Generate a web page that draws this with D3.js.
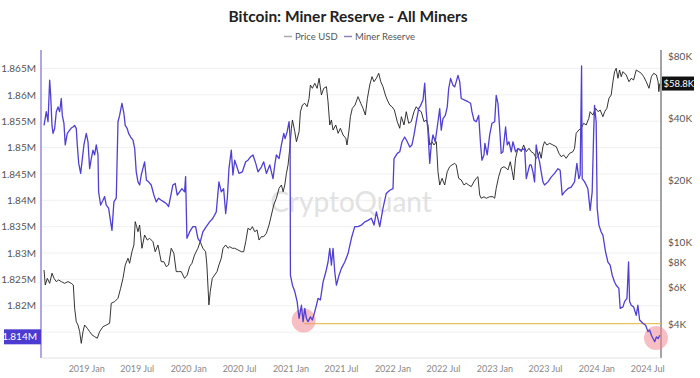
<!DOCTYPE html>
<html>
<head>
<meta charset="utf-8">
<script src="https://cdn.jsdelivr.net/npm/d3@7"></script>
<style>
  html, body { margin: 0; padding: 0; background: #fff; }
  svg { display: block; font-family: Lato, "Open Sans", sans-serif; }
</style>
</head>
<body>
<svg id="chart" width="700" height="378"></svg>
<script>
// ---------------- DATA ----------------
const reserveDates = [2018.587,2018.609,2018.626,2018.642,2018.652,2018.665,2018.675,2018.691,2018.707,2018.724,2018.740,2018.756,2018.766,2018.782,2018.795,2018.815,2018.838,2018.854,2018.871,2018.887,2018.903,2018.913,2018.927,2018.946,2018.959,2018.978,2019.001,2019.018,2019.034,2019.050,2019.067,2019.083,2019.099,2019.116,2019.122,2019.142,2019.165,2019.181,2019.197,2019.220,2019.240,2019.253,2019.272,2019.295,2019.312,2019.328,2019.351,2019.370,2019.383,2019.403,2019.416,2019.436,2019.459,2019.476,2019.491,2019.508,2019.525,2019.540,2019.573,2019.591,2019.612,2019.638,2019.664,2019.687,2019.710,2019.736,2019.762,2019.785,2019.808,2019.828,2019.850,2019.873,2019.893,2019.916,2019.939,2019.965,2019.975,2019.988,2020.014,2020.046,2020.073,2020.095,2020.118,2020.144,2020.177,2020.210,2020.242,2020.275,2020.301,2020.324,2020.347,2020.367,2020.383,2020.399,2020.422,2020.438,2020.455,2020.471,2020.497,2020.530,2020.563,2020.585,2020.608,2020.634,2020.661,2020.683,2020.716,2020.739,2020.765,2020.798,2020.830,2020.847,2020.863,2020.889,2020.912,2020.935,2020.948,2020.968,2020.987,2020.997,2021.000,2021.020,2021.043,2021.066,2021.085,2021.108,2021.124,2021.141,2021.157,2021.173,2021.196,2021.215,2021.239,2021.255,2021.271,2021.294,2021.320,2021.347,2021.369,2021.386,2021.402,2021.418,2021.435,2021.451,2021.477,2021.500,2021.533,2021.565,2021.598,2021.631,2021.663,2021.696,2021.729,2021.761,2021.794,2021.820,2021.843,2021.876,2021.908,2021.940,2021.974,2022.006,2022.016,2022.048,2022.072,2022.094,2022.121,2022.146,2022.170,2022.192,2022.212,2022.234,2022.258,2022.277,2022.300,2022.317,2022.332,2022.349,2022.366,2022.381,2022.398,2022.420,2022.447,2022.464,2022.479,2022.496,2022.519,2022.538,2022.552,2022.571,2022.594,2022.611,2022.626,2022.643,2022.660,2022.675,2022.709,2022.741,2022.767,2022.780,2022.800,2022.822,2022.846,2022.865,2022.878,2022.898,2022.907,2022.930,2022.954,2022.976,2023.003,2023.018,2023.035,2023.052,2023.067,2023.084,2023.110,2023.126,2023.143,2023.165,2023.182,2023.208,2023.231,2023.263,2023.297,2023.313,2023.329,2023.346,2023.361,2023.378,2023.394,2023.410,2023.426,2023.443,2023.459,2023.476,2023.492,2023.525,2023.557,2023.590,2023.623,2023.645,2023.665,2023.688,2023.720,2023.753,2023.786,2023.809,2023.828,2023.841,2023.855,2023.861,2023.885,2023.900,2023.917,2023.939,2023.959,2023.973,2023.982,2023.998,2024.008,2024.025,2024.047,2024.064,2024.090,2024.113,2024.135,2024.155,2024.178,2024.194,2024.220,2024.233,2024.260,2024.276,2024.299,2024.315,2024.325,2024.341,2024.364,2024.390,2024.406,2024.423,2024.455,2024.482,2024.505,2024.521,2024.538,2024.554,2024.571,2024.587,2024.604,2024.620];
const reserveValues = [1.8542,1.8568,1.8549,1.8628,1.8599,1.8542,1.8527,1.8536,1.8568,1.8577,1.8568,1.8593,1.8561,1.8546,1.8505,1.8527,1.8533,1.8537,1.8539,1.8542,1.8536,1.8505,1.8470,1.8451,1.8473,1.8505,1.8527,1.8511,1.8460,1.8479,1.8495,1.8486,1.8505,1.8486,1.8416,1.8391,1.8400,1.8407,1.8391,1.8385,1.8359,1.8343,1.8397,1.8404,1.8549,1.8561,1.8584,1.8565,1.8542,1.8536,1.8527,1.8520,1.8514,1.8498,1.8454,1.8435,1.8429,1.8448,1.8473,1.8438,1.8435,1.8429,1.8410,1.8397,1.8404,1.8400,1.8397,1.8394,1.8388,1.8407,1.8429,1.8432,1.8410,1.8416,1.8422,1.8416,1.8445,1.8328,1.8340,1.8350,1.8350,1.8328,1.8321,1.8340,1.8350,1.8359,1.8366,1.8378,1.8435,1.8416,1.8422,1.8375,1.8404,1.8460,1.8495,1.8448,1.8476,1.8467,1.8451,1.8454,1.8473,1.8476,1.8482,1.8486,1.8470,1.8454,1.8463,1.8473,1.8451,1.8467,1.8441,1.8467,1.8486,1.8479,1.8505,1.8527,1.8517,1.8530,1.8549,1.8517,1.8258,1.8239,1.8227,1.8208,1.8176,1.8201,1.8170,1.8195,1.8176,1.8170,1.8179,1.8173,1.8189,1.8201,1.8214,1.8211,1.8245,1.8264,1.8283,1.8309,1.8277,1.8309,1.8264,1.8239,1.8258,1.8271,1.8283,1.8299,1.8328,1.8350,1.8350,1.8353,1.8359,1.8362,1.8366,1.8353,1.8378,1.8350,1.8385,1.8413,1.8419,1.8422,1.8479,1.8489,1.8492,1.8511,1.8520,1.8511,1.8501,1.8505,1.8524,1.8549,1.8574,1.8580,1.8590,1.8622,1.8568,1.8530,1.8470,1.8505,1.8524,1.8511,1.8549,1.8574,1.8533,1.8555,1.8561,1.8577,1.8612,1.8631,1.8618,1.8615,1.8625,1.8637,1.8625,1.8593,1.8590,1.8587,1.8584,1.8568,1.8552,1.8549,1.8561,1.8505,1.8476,1.8486,1.8508,1.8486,1.8524,1.8546,1.8549,1.8599,1.8584,1.8536,1.8489,1.8492,1.8539,1.8505,1.8511,1.8492,1.8511,1.8492,1.8498,1.8495,1.8498,1.8441,1.8454,1.8467,1.8467,1.8454,1.8435,1.8505,1.8486,1.8473,1.8454,1.8435,1.8429,1.8435,1.8444,1.8451,1.8460,1.8457,1.8410,1.8416,1.8422,1.8425,1.8435,1.8470,1.8441,1.8448,1.8655,1.8441,1.8435,1.8429,1.8422,1.8381,1.8416,1.8524,1.8580,1.8549,1.8385,1.8353,1.8340,1.8334,1.8302,1.8283,1.8277,1.8258,1.8245,1.8239,1.8233,1.8195,1.8198,1.8208,1.8214,1.8283,1.8208,1.8201,1.8198,1.8182,1.8201,1.8173,1.8167,1.8163,1.8151,1.8154,1.8144,1.8138,1.8132,1.8141,1.8138,1.8144];

const priceDates = [2018.587,2018.599,2018.619,2018.642,2018.665,2018.685,2018.707,2018.730,2018.756,2018.789,2018.822,2018.854,2018.874,2018.887,2018.903,2018.920,2018.936,2018.952,2018.969,2018.985,2019.011,2019.034,2019.057,2019.083,2019.109,2019.132,2019.165,2019.197,2019.230,2019.246,2019.279,2019.312,2019.338,2019.361,2019.383,2019.410,2019.426,2019.449,2019.468,2019.481,2019.495,2019.508,2019.524,2019.547,2019.573,2019.599,2019.622,2019.655,2019.677,2019.704,2019.736,2019.762,2019.785,2019.808,2019.834,2019.860,2019.883,2019.906,2019.932,2019.965,2019.991,2020.014,2020.037,2020.063,2020.095,2020.118,2020.144,2020.171,2020.183,2020.203,2020.216,2020.236,2020.259,2020.282,2020.301,2020.324,2020.341,2020.367,2020.390,2020.406,2020.432,2020.455,2020.487,2020.520,2020.543,2020.563,2020.585,2020.608,2020.628,2020.651,2020.674,2020.693,2020.716,2020.739,2020.765,2020.791,2020.814,2020.837,2020.863,2020.889,2020.912,2020.929,2020.945,2020.961,2020.977,2020.994,2021.010,2021.020,2021.043,2021.059,2021.085,2021.098,2021.118,2021.141,2021.164,2021.183,2021.196,2021.215,2021.239,2021.262,2021.281,2021.304,2021.327,2021.353,2021.369,2021.386,2021.402,2021.418,2021.445,2021.468,2021.490,2021.516,2021.543,2021.555,2021.575,2021.588,2021.607,2021.634,2021.663,2021.690,2021.712,2021.735,2021.755,2021.778,2021.800,2021.820,2021.843,2021.866,2021.886,2021.908,2021.931,2021.950,2021.974,2021.996,2022.019,2022.048,2022.072,2022.088,2022.114,2022.136,2022.160,2022.185,2022.212,2022.234,2022.258,2022.283,2022.310,2022.332,2022.349,2022.366,2022.388,2022.408,2022.431,2022.447,2022.464,2022.487,2022.513,2022.538,2022.562,2022.584,2022.611,2022.626,2022.650,2022.675,2022.702,2022.724,2022.748,2022.773,2022.800,2022.822,2022.839,2022.856,2022.871,2022.898,2022.920,2022.954,2022.986,2023.003,2023.018,2023.042,2023.067,2023.094,2023.116,2023.133,2023.156,2023.175,2023.189,2023.208,2023.231,2023.263,2023.287,2023.313,2023.339,2023.361,2023.385,2023.410,2023.426,2023.443,2023.459,2023.476,2023.492,2023.515,2023.542,2023.574,2023.607,2023.633,2023.655,2023.679,2023.704,2023.738,2023.770,2023.786,2023.802,2023.828,2023.851,2023.875,2023.900,2023.926,2023.939,2023.966,2023.992,2024.018,2024.037,2024.064,2024.081,2024.103,2024.123,2024.145,2024.162,2024.178,2024.194,2024.211,2024.227,2024.243,2024.260,2024.292,2024.319,2024.341,2024.364,2024.390,2024.416,2024.439,2024.463,2024.488,2024.515,2024.538,2024.561,2024.587,2024.604,2024.611,2024.620];
const priceValues = [7310,6180,6660,6300,7050,6660,6420,6540,6420,6300,6420,6300,6180,4770,4100,3950,3670,3220,3670,3950,3810,3670,3540,3470,3410,3670,3880,3950,4030,5040,5130,5330,5960,6660,7730,8340,7880,8970,9670,12550,11870,11220,12090,9320,10810,10220,10420,10030,8970,9670,8020,8020,7590,7730,9320,8810,7180,7180,7180,6660,6910,7590,7880,8650,9320,10030,9320,8970,7730,4950,5740,6660,6910,7180,7730,8340,9320,9670,9320,9490,9320,9320,9150,8970,8970,10030,11660,11440,11870,11220,11440,10220,10610,10610,11020,12090,13520,15120,16300,18230,18910,17540,18910,21560,23650,28500,35650,39120,34320,30690,34320,42920,46260,47150,45380,49850,57840,55750,58970,55750,62340,51730,55750,56760,48000,36990,39120,34970,36990,33710,35650,33080,31890,29580,34970,40580,44570,46260,50760,47150,44570,41360,49850,57840,63480,60000,62340,65940,60000,56760,51730,48910,46260,45380,43740,38380,35650,40580,36990,42920,37700,38380,42920,45380,43740,42920,38380,39120,36990,29580,30690,29580,30690,21950,18910,20380,18910,21950,23210,23650,24100,23650,20380,20000,18910,19280,18910,18560,19630,20380,20750,16910,16300,16590,16300,16590,16590,16300,18230,20750,22800,23210,22800,22370,24540,21950,20000,25490,28500,27440,29580,27440,28500,27440,26960,25490,25950,27440,25490,29020,30690,29580,30150,29580,29020,26960,25950,26450,25490,26960,27440,28500,33710,34970,35650,37700,36990,39870,42920,41360,44570,42920,43740,40580,42920,44570,49850,51730,60000,67130,69730,62340,68400,63480,67130,64700,60000,62340,61170,68400,67130,65940,63480,60000,55750,63480,65940,64700,60000,53700,58800];

const leftTickValues = [1.815,1.82,1.825,1.83,1.835,1.84,1.845,1.85,1.855,1.86,1.865];
const rightTickValues = [4000,6000,8000,10000,20000,40000,80000];
const rightTickLabels = ["$4K","$6K","$8K","$10K","$20K","$40K","$80K"];
const xTickDates = [2019.0,2019.5,2020.0,2020.5,2021.0,2021.5,2022.0,2022.5,2023.0,2023.5,2024.0,2024.5];
const xTickLabels = ["2019 Jan","2019 Jul","2020 Jan","2020 Jul","2021 Jan","2021 Jul","2022 Jan","2022 Jul","2023 Jan","2023 Jul","2024 Jan","2024 Jul"];

// annotations
const lastReserveLabel = "1.814M";
const lastPriceLabel = "$58.8K";
const lastPriceValue = 58800;
const supportLevel = 1.8166;
const supportRange = [2021.135, 2024.632];
const circleDates = [2021.130, 2024.583];
const circleValues = [1.8172, 1.8139];

// ---------------- HELPERS ----------------
function dy(y) {
  const yr = Math.floor(y);
  const a = Date.UTC(yr, 0, 1), b = Date.UTC(yr + 1, 0, 1);
  return new Date(a + (y - yr) * (b - a));
}
function xTickDate(y) {
  const yr = Math.floor(y);
  return new Date(Date.UTC(yr, Math.round((y - yr) * 12), 1));
}

const svg = d3.select("#chart");
const L = 41, R = 661, T = 50, B = 358;
const FONT = "Lato, 'Open Sans', sans-serif";

const x = d3.scaleUtc().domain([dy(2018.5571), dy(2024.6321)]).range([L, R]);
const yL = d3.scaleLinear().domain([1.8101, 1.8685]).range([B, T]);
const yR = d3.scaleLog().domain([2733, 85550]).range([B, T]);

// Title
svg.append("text").attr("x", 348).attr("y", 22).attr("text-anchor", "middle")
  .attr("font-size", 15.5).attr("font-weight", 700).attr("fill", "#222")
  .text("Bitcoin: Miner Reserve - All Miners");

// Legend
const lg = svg.append("g").attr("font-size", 9.5).attr("fill", "#555");
lg.append("line").attr("x1", 284).attr("x2", 292).attr("y1", 36.5).attr("y2", 36.5).attr("stroke", "#aaa").attr("stroke-width", 1.5);
lg.append("text").attr("x", 295).attr("y", 40).text("Price USD");
lg.append("line").attr("x1", 344).attr("x2", 352).attr("y1", 36.5).attr("y2", 36.5).attr("stroke", "#8b87b0").attr("stroke-width", 1.5);
lg.append("text").attr("x", 355).attr("y", 40).text("Miner Reserve");

// Grid lines
svg.append("g").selectAll("line").data(leftTickValues).join("line")
  .attr("x1", L).attr("x2", R).attr("y1", d => yL(d)).attr("y2", d => yL(d))
  .attr("stroke", "#f1f1f1").attr("stroke-width", 1);

// Watermark
svg.append("text").attr("x", 351).attr("y", 212).attr("text-anchor", "middle")
  .attr("font-size", 28).attr("fill", "#e2e2e2").attr("font-family", FONT)
  .text("CryptoQuant");

// Left axis
const axL = d3.axisLeft(yL).tickValues(leftTickValues.filter(v => v > 1.816))
  .tickFormat(d => d3.format(".4~")(d) + "M").tickSize(0).tickPadding(5);
const gL = svg.append("g").attr("transform", `translate(${L},0)`).call(axL);
gL.select(".domain").attr("stroke", "#7a6cd8").attr("stroke-width", 1.2).attr("d", `M0,${T}V${B}`);
gL.selectAll("text").attr("font-size", 10).attr("fill", "#555").attr("font-family", FONT);

// Right axis
const axR = d3.axisRight(yR).tickValues(rightTickValues)
  .tickFormat((d, i) => rightTickLabels[i]).tickSize(0).tickPadding(7);
const gR = svg.append("g").attr("transform", `translate(${R},0)`).call(axR);
gR.select(".domain").attr("stroke", "#666").attr("stroke-width", 1.2).attr("d", `M0,${T}V${B}`);
gR.selectAll("text").attr("font-size", 10).attr("fill", "#555").attr("font-family", FONT);

// Bottom axis
const axB = d3.axisBottom(x).tickValues(xTickDates.map(xTickDate))
  .tickFormat((d, i) => xTickLabels[i]).tickSize(0).tickPadding(8);
const gB = svg.append("g").attr("transform", `translate(0,${B})`).call(axB);
gB.select(".domain").attr("stroke", "#e2e2e2").attr("d", `M${L},0H${R}`);
gB.selectAll("text").attr("font-size", 9).attr("fill", "#888").attr("font-family", FONT);

// Support line
svg.append("line")
  .attr("x1", x(dy(supportRange[0]))).attr("x2", x(dy(supportRange[1])))
  .attr("y1", yL(supportLevel)).attr("y2", yL(supportLevel))
  .attr("stroke", "#e6c35c").attr("stroke-width", 1.2);

// Circles
svg.append("g").selectAll("circle").data(circleDates).join("circle")
  .attr("cx", d => x(dy(d))).attr("cy", (d, i) => yL(circleValues[i])).attr("r", 12)
  .attr("fill", "#f08a94").attr("fill-opacity", 0.55);

// Price line
const priceData = priceDates.map((d, i) => [dy(d), priceValues[i]]);
svg.append("path").datum(priceData)
  .attr("fill", "none").attr("stroke", "#1e1e1e").attr("stroke-width", 0.9)
  .attr("d", d3.line().x(d => x(d[0])).y(d => yR(d[1])));

// Reserve line
const reserveData = reserveDates.map((d, i) => [dy(d), reserveValues[i]]);
svg.append("path").datum(reserveData)
  .attr("fill", "none").attr("stroke", "#4f3fd3").attr("stroke-width", 1.3)
  .attr("stroke-linejoin", "round")
  .attr("d", d3.line().x(d => x(d[0])).y(d => yL(d[1])));

// Last value labels
const lastRes = reserveValues[reserveValues.length - 1];
const yl = yL(lastRes) + 1.5;
svg.append("rect").attr("x", 4).attr("y", yl - 7.5).attr("width", L - 4).attr("height", 15).attr("fill", "#4b3bd0");
svg.append("text").attr("x", 37).attr("y", yl + 3.5).attr("text-anchor", "end")
  .attr("font-size", 10).attr("fill", "#fff").text(lastReserveLabel);

const yp = yR(lastPriceValue);
svg.append("rect").attr("x", R + 1).attr("y", yp - 7).attr("width", 32).attr("height", 14).attr("fill", "#111");
svg.append("text").attr("x", R + 2.5).attr("y", yp + 3.5)
  .attr("font-size", 9.5).attr("fill", "#fff").text(lastPriceLabel);
</script>
</body>
</html>
